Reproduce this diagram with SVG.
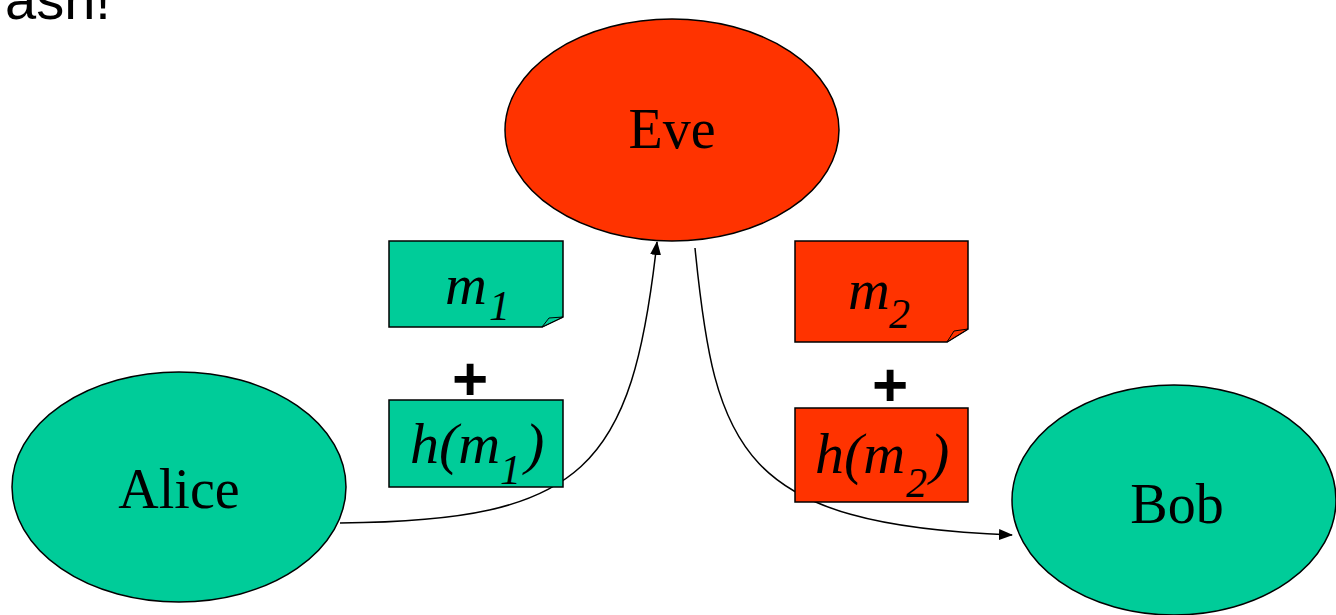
<svg xmlns="http://www.w3.org/2000/svg" width="1336" height="615" viewBox="0 0 1336 615">
<defs>
<style>
.node{stroke:#000;stroke-width:1.5}
.g{fill:#00CC99}
.r{fill:#FF3300}
.lbl{font-family:"Liberation Serif","Times New Roman",serif;font-size:56px;fill:#000}
.it{font-family:"Liberation Serif","Times New Roman",serif;font-style:italic;font-size:58px;fill:#000}
.sub{font-family:"Liberation Serif","Times New Roman",serif;font-style:italic;font-size:42px;fill:#000}
.plus{font-family:"Liberation Sans",Arial,sans-serif;font-weight:bold;font-size:62px;fill:#000}
.conn{fill:none;stroke:#000;stroke-width:1.5}
</style>
<marker id="arr" markerWidth="14" markerHeight="11" refX="13" refY="5.5" orient="auto" markerUnits="userSpaceOnUse">
<path d="M0,0 L14,5.5 L0,11 Z" fill="#000"/>
</marker>
</defs>
<rect width="1336" height="615" fill="#fff"/>
<text x="5" y="19" style="font-family:'Liberation Sans',Arial,sans-serif;font-size:56px;fill:#000">ash!</text>

<g id="connectors">
<path class="conn" d="M340,523 C585,521 632,468 657,242" marker-end="url(#arr)"/>
<path class="conn" d="M695,248 C715,450 740,525 1012,535" marker-end="url(#arr)"/>
</g>

<g id="eve">
<ellipse class="node r" cx="672" cy="130" rx="167" ry="111"/>
<text class="lbl" x="672" y="148" text-anchor="middle">Eve</text>
</g>
<g id="alice">
<ellipse class="node g" cx="179" cy="487" rx="167" ry="115"/>
<text class="lbl" x="179" y="508" text-anchor="middle">Alice</text>
</g>
<g id="bob">
<ellipse class="node g" cx="1174" cy="500" rx="162" ry="115"/>
<text class="lbl" x="1177" y="523" text-anchor="middle">Bob</text>
</g>

<g id="m1">
<path class="node g" d="M389,241 H563 V317 L542,327 H389 Z"/>
<path class="node g" d="M542,327 L549,318 L563,317 Z" style="stroke-width:1"/>
<text class="it" x="445" y="304">m</text>
<text class="sub" x="489" y="320">1</text>
</g>
<g id="plus1">
<text class="plus" x="470" y="400" text-anchor="middle">+</text>
</g>
<g id="hm1">
<rect class="node g" x="389" y="400" width="174" height="87"/>
<text class="it" x="410" y="463">h(m</text>
<text class="sub" x="500" y="484">1</text>
<text class="it" x="525" y="463">)</text>
</g>

<g id="m2">
<path class="node r" d="M795,241 H968 V329 L947,342 H795 Z"/>
<path class="node r" d="M947,342 L954,331 L968,329 Z" style="stroke-width:1"/>
<text class="it" x="848" y="309">m</text>
<text class="sub" x="889" y="328">2</text>
</g>
<g id="plus2">
<text class="plus" x="890" y="406" text-anchor="middle">+</text>
</g>
<g id="hm2">
<rect class="node r" x="795" y="408" width="173" height="94"/>
<text class="it" x="815" y="473">h(m</text>
<text class="sub" x="906" y="497">2</text>
<text class="it" x="930" y="473">)</text>
</g>
</svg>
